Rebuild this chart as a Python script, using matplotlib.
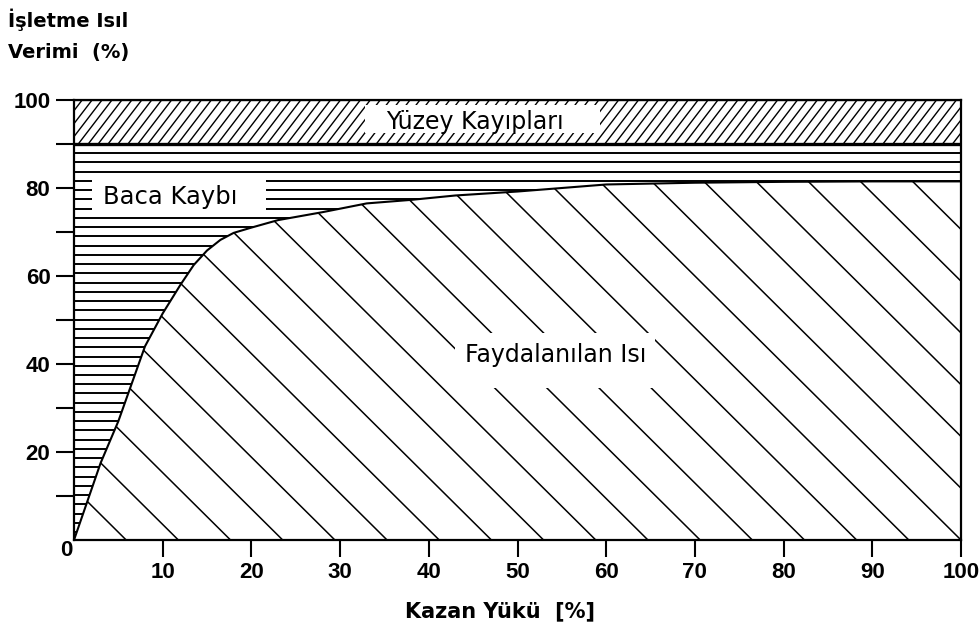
import numpy as np
import matplotlib
matplotlib.use('Agg')
import matplotlib.pyplot as plt
from matplotlib.patches import Rectangle

# ---------------- data ----------------
load_pct = [0, 3, 5, 8, 10, 12, 13.5, 15, 16.5, 18, 20, 23, 28, 33, 38, 43, 50, 55, 60, 70, 80, 90, 100]
useful_heat = [0, 17.5, 27, 44, 51.5, 58, 62.5, 65.8, 68.2, 69.8, 71, 72.7, 74.5, 76.5, 77.3, 78.3,
               79.2, 80, 80.8, 81.2, 81.4, 81.5, 81.5]
surface_loss_bottom = 90
surface_loss_top = 100

x_ticks = [10, 20, 30, 40, 50, 60, 70, 80, 90, 100]
x_tick_labels = ["10", "20", "30", "40", "50", "60", "70", "80", "90", "100"]
y_ticks = [20, 40, 60, 80, 100]
y_tick_labels = ["20", "40", "60", "80", "100"]
y_minor_ticks = [10, 30, 50, 70, 90]

label_surface = "Yüzey Kayıpları"
label_stack = "Baca Kaybı"
label_useful = "Faydalanılan Isı"
title_line1 = "İşletme Isıl"
title_line2 = "Verimi  (%)"
x_label = "Kazan Yükü  [%]"

# ---------------- figure ----------------
W, H = 980, 634
fig = plt.figure(figsize=(W / 100, H / 100), dpi=100)
ax = fig.add_axes([74 / W, 94 / H, 887 / W, 440 / H])
ax.set_xlim(0, 100)
ax.set_ylim(0, 100)

x = np.array(load_pct, dtype=float)
yc = np.array(useful_heat, dtype=float)

useful_poly = ax.fill_between(x, 0, yc, facecolor='white', edgecolor='none', zorder=1)
stack_poly = ax.fill_between(x, yc, surface_loss_bottom, facecolor='white', edgecolor='none', zorder=1)
surf_poly = ax.fill_between([0, 100], surface_loss_bottom, surface_loss_top,
                            facecolor='white', edgecolor='none', zorder=1)

# hatch: useful heat (backslash lines)
for k in range(1, 27):
    x0 = 100 * k / 17
    xs = np.array([x0 - 60, x0])
    ys = 2.0 * (x0 - xs)
    ln, = ax.plot(xs, ys, color='black', lw=1.1, zorder=2)
    ln.set_clip_path(useful_poly.get_paths()[0], ax.transData)

# hatch: stack loss (horizontal lines)
for k in range(1, 44):
    yy = surface_loss_bottom - 2.1 * k
    ln, = ax.plot([0, 100], [yy, yy], color='black', lw=1.4, zorder=2)
    ln.set_clip_path(stack_poly.get_paths()[0], ax.transData)

# hatch: surface losses (forward slanted lines)
for x0 in np.arange(-4, 101, 1.12):
    ln, = ax.plot([x0, x0 + 3.8], [surface_loss_bottom, surface_loss_top], color='black', lw=1.0, zorder=2)
    ln.set_clip_path(surf_poly.get_paths()[0], ax.transData)

# boundaries
ax.plot(x, yc, color='black', lw=1.5, zorder=3)
ax.axhline(surface_loss_bottom, color='black', lw=2.4, zorder=3)
ax.axhline(surface_loss_top, color='black', lw=1.6, zorder=3)
for s in ax.spines.values():
    s.set_linewidth(1.6)
    s.set_zorder(3)

# white boxes behind labels
ax.add_patch(Rectangle((32.8, 92.5), 26.5, 6.4, facecolor='white', edgecolor='none', zorder=4))
ax.add_patch(Rectangle((2.0, 74.3), 19.6, 8.3, facecolor='white', edgecolor='none', zorder=4))
ax.add_patch(Rectangle((43.0, 34.5), 22.5, 12.5, facecolor='white', edgecolor='none', zorder=4))

ax.text(45.2, 93.4, label_surface, ha='center', va='baseline', fontsize=17, zorder=5)
ax.text(10.8, 76.4, label_stack, ha='center', va='baseline', fontsize=17.5, zorder=5)
ax.text(54.3, 40.5, label_useful, ha='center', va='baseline', fontsize=17, zorder=5)

# ticks
ax.set_xticks(x_ticks, x_tick_labels)
ax.set_yticks(y_ticks, y_tick_labels)
ax.set_yticks(y_minor_ticks, minor=True)
ax.tick_params(axis='x', which='both', direction='out', length=12, width=1.5, pad=4, labelsize=16)
ax.tick_params(axis='y', which='both', direction='out', length=13, width=1.5, pad=4, labelsize=16)
for lbl in ax.get_xticklabels() + ax.get_yticklabels():
    lbl.set_fontfamily(['Liberation Sans', 'DejaVu Sans'])
    lbl.set_fontweight('bold')

ax.annotate("0", xy=(0, 0), xycoords='data', xytext=(-5.8, -7.5), textcoords='offset points',
            ha='center', va='center', fontsize=16, fontweight='bold',
            family=['Liberation Sans', 'DejaVu Sans'])

# titles
fig.text(8 / W, 1 - 27 / H, title_line1, ha='left', va='baseline', fontsize=14, fontweight='bold')
fig.text(8 / W, 1 - 58 / H, title_line2, ha='left', va='baseline', fontsize=14, fontweight='bold')
fig.text(500 / W, 1 - 611 / H, x_label, ha='center', va='center', fontsize=15, fontweight='bold')

fig.savefig('out.png', dpi=100, facecolor='white')
